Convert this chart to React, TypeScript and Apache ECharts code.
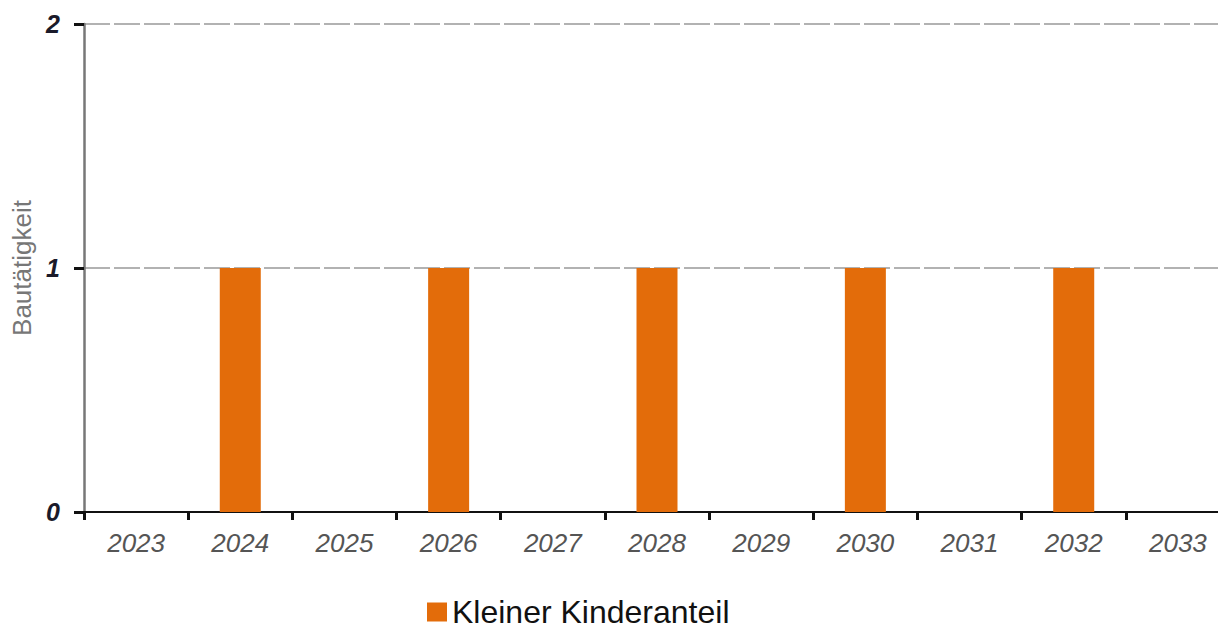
import React, { useEffect, useRef } from "react";
import * as echarts from "echarts";

const categories = ["2023", "2024", "2025", "2026", "2027", "2028", "2029", "2030", "2031", "2032", "2033"];
const values = [0, 1, 0, 1, 0, 1, 0, 1, 0, 1, 0];
const seriesName = "Kleiner Kinderanteil";
const yAxisName = "Bautätigkeit";

export default function App() {
  const ref = useRef<HTMLDivElement>(null);
  useEffect(() => {
    if (!ref.current) return;
    const chart = echarts.init(ref.current, null, { renderer: "svg" });
    chart.setOption({
      animation: false,
      textStyle: { fontFamily: "Liberation Sans, Arial, sans-serif" },
      grid: { left: 84, top: 24, width: 1146, bottom: 120 },
      legend: {
        left: 427,
        top: 595,
        padding: 0,
        itemWidth: 20,
        itemHeight: 19,
        icon: "rect",
        itemGap: 10,
        textStyle: { fontSize: 32, lineHeight: 34, color: "#111", fontFamily: "Liberation Sans, Arial, sans-serif" },
        data: [seriesName],
      },
      xAxis: {
        type: "category",
        data: categories,
        boundaryGap: true,
        axisLine: { lineStyle: { color: "#111", width: 2 } },
        axisTick: { show: true, length: 8, alignWithLabel: false, lineStyle: { color: "#111", width: 3 } },
        axisLabel: { fontSize: 26, fontStyle: "italic", color: "#555", margin: 18 },
      },
      yAxis: {
        type: "value",
        min: 0,
        max: 2,
        interval: 1,
        name: yAxisName,
        nameLocation: "middle",
        nameGap: 49,
        nameTextStyle: { fontSize: 26, color: "#777" },
        axisLine: { show: true, lineStyle: { color: "#777", width: 2.5 } },
        axisTick: { show: true, length: 10, lineStyle: { color: "#111", width: 3 } },
        axisLabel: { fontSize: 25, fontStyle: "italic", fontWeight: "bold", color: "#1a1a2a", margin: 24 },
        splitLine: { show: true, lineStyle: { color: "#999", width: 1.5, type: [26, 4] } },
      },
      series: [
        {
          name: seriesName,
          type: "bar",
          data: values,
          barWidth: 41,
          itemStyle: { color: "#E36C0A" },
        },
      ],
    });
    return () => chart.dispose();
  }, []);
  return (
    <div style={{ position: "fixed", left: 0, top: 0, width: 1218, height: 632, overflow: "hidden", background: "#fff" }}>
      <div ref={ref} style={{ width: 1240, height: 632 }} />
    </div>
  );
}
